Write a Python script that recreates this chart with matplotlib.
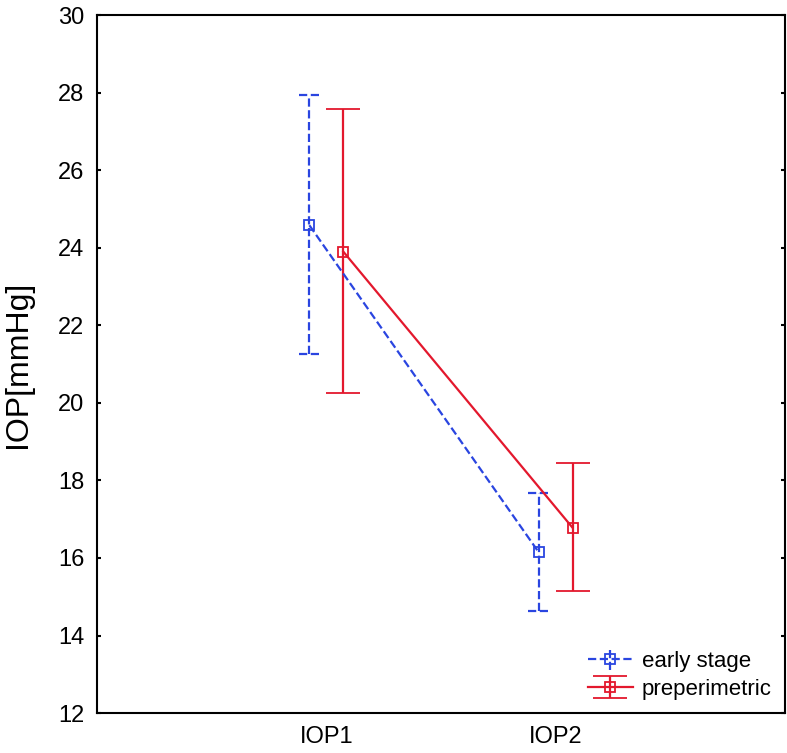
import matplotlib
matplotlib.use('Agg')
import matplotlib.pyplot as plt
import numpy as np

plt.rcParams['font.family'] = ['Liberation Sans', 'DejaVu Sans']

groups = ['IOP1', 'IOP2']
early_mean = [24.58, 16.15]
early_hi = [27.93, 17.67]
early_lo = [21.25, 14.62]
pre_mean = [23.90, 16.78]
pre_hi = [27.57, 18.45]
pre_lo = [20.25, 15.15]

blue = '#2a45e0'
red = '#e3182d'

fig = plt.figure(figsize=(7.87, 7.53), dpi=100)
ax = fig.add_axes([0.1233, 0.053, 0.874, 0.927])

x = np.arange(1, len(groups) + 1)
xb = x - 0.074
xr = x + 0.074

em = np.array(early_mean)
pm = np.array(pre_mean)
eb = ax.errorbar(xb, em, yerr=[em - np.array(early_lo), np.array(early_hi) - em],
                 fmt='s', ls='--', color=blue, mfc='none', ms=7, mew=1.3,
                 elinewidth=1.6, lw=1.6, capsize=0, label='early stage')
eb[2][0].set_linestyle('--')
ax.hlines(early_hi, xb - 0.045, xb + 0.045, colors=blue, linestyles='--', lw=1.6)
ax.hlines(early_lo, xb - 0.045, xb + 0.045, colors=blue, linestyles='--', lw=1.6)

ax.errorbar(xr, pm, yerr=[pm - np.array(pre_lo), np.array(pre_hi) - pm],
            fmt='s', ls='-', color=red, mfc='none', ms=7, mew=1.3,
            elinewidth=1.6, lw=1.6, capsize=12, capthick=1.6, label='preperimetric')

ax.set_xlim(0, 3)
ax.set_ylim(12, 30)
ax.set_yticks(np.arange(12, 31, 2))
ax.set_xticks(x)
ax.set_xticklabels(groups)
ax.tick_params(axis='y', direction='in', labelsize=17, length=3, width=1.5,
               right=True, pad=9)
ax.tick_params(axis='x', length=0, labelsize=17, pad=9)
ax.set_ylabel('IOP[mmHg]', fontsize=23, labelpad=18)
for s in ax.spines.values():
    s.set_linewidth(1.5)

ax.legend(loc='lower right', fontsize=16, frameon=False, borderaxespad=0.2,
          handlelength=2.0, handletextpad=0.4, labelspacing=0.3)

fig.savefig('out.png', dpi=100)
